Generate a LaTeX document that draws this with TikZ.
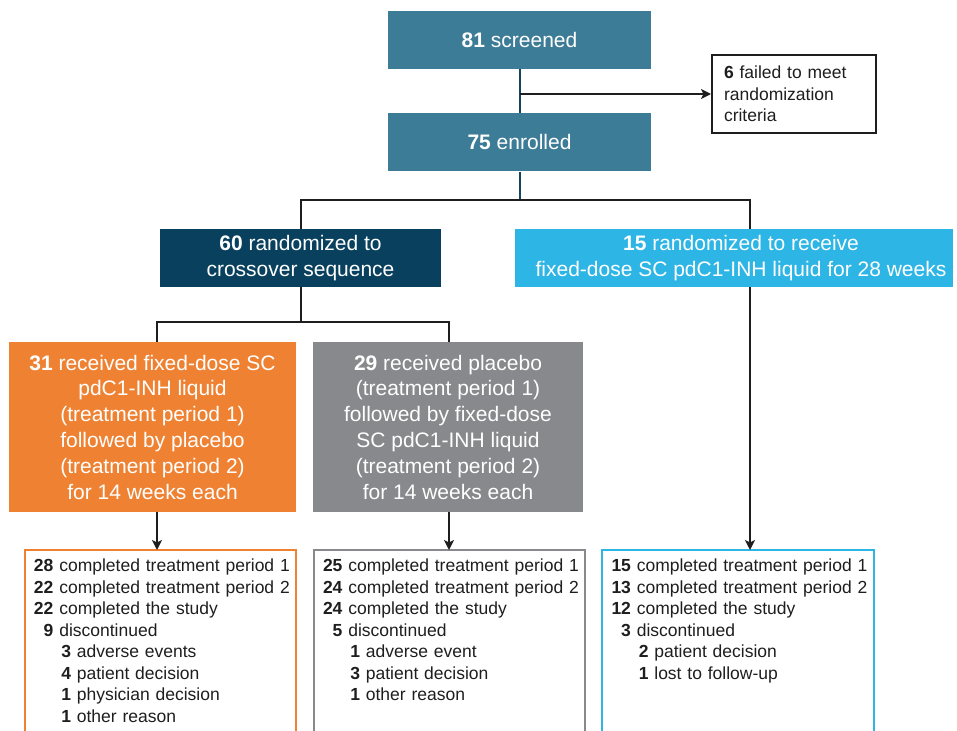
\documentclass[tikz,border=0pt]{standalone}
\usepackage{fontspec}
\setmainfont{Liberation Sans}
\usetikzlibrary{positioning,arrows.meta}
\definecolor{tealbox}{RGB}{61,124,151}
\definecolor{navybox}{RGB}{8,64,93}
\definecolor{cyanbox}{RGB}{45,181,229}
\definecolor{orangebox}{RGB}{239,130,50}
\definecolor{graybox}{RGB}{135,137,140}
\definecolor{linecol}{RGB}{30,30,30}
\definecolor{tealline}{RGB}{22,68,92}
\newcommand{\nrow}[2]{\mbox{\makebox[1.112em][r]{\bfseries #1} #2}}
\newcommand{\srow}[2]{\nrow{}{\hspace{2pt}\textbf{#1} #2}}
\tikzset{basic/.style={fill=tealbox,text=white,align=center,inner sep=0pt,font=\fontsize{21}{25.8}\selectfont}}
\tikzset{topbox/.style={basic,minimum width=263pt,minimum height=58pt}}
\tikzset{groupbox/.style={basic,minimum height=58pt}}
\tikzset{armbox/.style={basic,minimum height=170pt}}
\tikzset{smalltext/.style={align=left,inner sep=0pt,text=linecol,font=\fontsize{17.5}{21.5}\selectfont}}
\tikzset{result/.style={smalltext,text width=253pt,inner sep=9pt,anchor=north}}
\tikzset{outframe/.style={line width=2pt}}
\tikzset{link/.style={draw=linecol,line width=2pt}}
\tikzset{arrow/.style={link,-{Stealth[length=10pt,width=10pt,inset=2.5pt]}}}

\begin{document}
\begin{tikzpicture}[x=1pt,y=-1pt]
    \useasboundingbox (0,0) rectangle (957,730);
    \node[topbox] (scr) at (519.5,40) {\textbf{81} screened};
    \node[topbox,below=44pt of scr] (enr) {\textbf{75} enrolled};
        \path[link,draw=tealline] (scr) -- (enr);
    \node[smalltext,draw=linecol,line width=2pt,text width=140pt,inner xsep=12pt,minimum height=78pt] (fail) at (794,94) {\textbf{6} failed to meet\\randomization\\criteria};
        \path[arrow] (scr |- fail) -- (fail);
    \coordinate[below=28pt of enr.south] (split);
        \path[link,draw=tealline] (enr) -- (split);
    \node[groupbox,fill=navybox,minimum width=281pt] (cross) at (300.5,258) {\textbf{60} randomized to\\crossover sequence};
    \node[groupbox,fill=cyanbox,minimum width=438pt] (open) at (734,258) {\hspace*{14pt}\textbf{15} randomized to receive\\\hspace*{14pt}fixed-dose SC pdC1-INH liquid for 28 weeks};
        \path[link] (cross) |- (split) -| ([xshift=16pt]open.north);
    \coordinate[below=35pt of cross.south] (split2);
        \path[link] (cross) -- (split2);
    \node[armbox,fill=orangebox,minimum width=287pt] (seqA) at (152.5,427) {\textbf{31} received fixed-dose SC\\pdC1-INH liquid\\(treatment period 1)\\followed by placebo\\(treatment period 2)\\for 14 weeks each};
    \node[armbox,fill=graybox,minimum width=270pt] (seqB) at (448,427) {\textbf{29} received placebo\\(treatment period 1)\\followed by fixed-dose\\SC pdC1-INH liquid\\(treatment period 2)\\for 14 weeks each};
        \path[link] ([xshift=4.5pt]seqA.north) |- (split2) -| ([xshift=1pt]seqB.north);
    % outcome boxes, open at the bottom edge
    \node[result] (resA) at (160.5,550) {\nrow{28}{completed treatment period 1}\\\nrow{22}{completed treatment period 2}\\\nrow{22}{completed the study}\\\nrow{9}{discontinued}\\\srow{3}{adverse events}\\\srow{4}{patient decision}\\\srow{1}{physician decision}\\\srow{1}{other reason}};
    \node[result] (resB) at (449.5,550) {\nrow{25}{completed treatment period 1}\\\nrow{24}{completed treatment period 2}\\\nrow{24}{completed the study}\\\nrow{5}{discontinued}\\\srow{1}{adverse event}\\\srow{3}{patient decision}\\\srow{1}{other reason}};
    \node[result] (resC) at (738,550) {\nrow{15}{completed treatment period 1}\\\nrow{13}{completed treatment period 2}\\\nrow{12}{completed the study}\\\nrow{3}{discontinued}\\\srow{2}{patient decision}\\\srow{1}{lost to follow-up}};
    \coordinate (bot) at (0,734);
        \draw[outframe,draw=orangebox] (resA.west |- bot) |- (resA.north east) -- (resA.east |- bot);
        \draw[outframe,draw=graybox] (resB.west |- bot) |- (resB.north east) -- (resB.east |- bot);
        \draw[outframe,draw=cyanbox] (resC.west |- bot) |- (resC.north east) -- (resC.east |- bot);
        \path[arrow] ([xshift=4.5pt]seqA.south) -- ([xshift=4.5pt]seqA.south |- resA.north);
        \path[arrow] ([xshift=1pt]seqB.south) -- ([xshift=1pt]seqB.south |- resB.north);
        \path[arrow] ([xshift=16pt]open.south) -- ([xshift=16pt]open.south |- resC.north);
\end{tikzpicture}
\end{document}
